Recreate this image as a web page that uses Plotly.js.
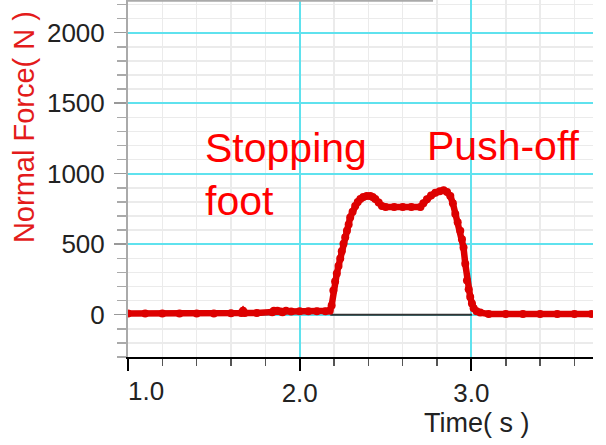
<!DOCTYPE html>
<html>
<head>
<meta charset="utf-8">
<script src="https://cdn.plot.ly/plotly-3.0.1.min.js"></script>
<style>html,body{margin:0;padding:0;background:#fff;}#chart{width:606px;height:445px;}</style>
</head>
<body>
<div id="chart"></div>
<script>
// Time (s) and normal force (N)
var time = [1.00, 1.10, 1.20, 1.30, 1.40, 1.50, 1.60, 1.66, 1.67, 1.68, 1.75, 1.84, 1.85, 1.87, 1.89, 1.90, 1.92, 1.95, 2.00, 2.05, 2.10, 2.15, 2.175,
  2.186, 2.196, 2.206, 2.216, 2.226, 2.236, 2.245, 2.255, 2.265, 2.275, 2.285, 2.294, 2.308, 2.323, 2.338, 2.353, 2.37, 2.39, 2.411, 2.425, 2.440, 2.46, 2.479,
  2.50, 2.55, 2.60, 2.65, 2.703, 2.72, 2.741, 2.765, 2.790, 2.815, 2.838, 2.858, 2.877, 2.892, 2.906, 2.92, 2.935, 2.945, 2.954, 2.964, 2.974, 2.984, 2.993, 3.003, 3.013, 3.03, 3.051,
  3.10, 3.20, 3.30, 3.40, 3.50, 3.60, 3.70];
var force = [8, 8, 8, 8, 8, 8, 10, 12, 28, 12, 12, 18, 28, 28, 22, 18, 28, 22, 25, 25, 25, 25, 28,
  66, 172, 235, 292, 345, 398, 450, 503, 550, 595, 640, 689, 730, 771, 800, 820, 835, 842, 841, 835, 820, 795, 771,
  764, 764, 764, 764, 764, 790, 818, 845, 865, 876, 882, 870, 842, 790, 715, 655, 595, 535, 477, 362, 243, 180, 125, 80, 46, 25, 15,
  5, 5, 5, 5, 5, 5, 5];
// Black baseline under the contact phase
var baseTime = [2.178, 3.003];
var baseForce = [0, 0];

var xTickVals = [1, 2, 3];
var xTickText = ["", "2.0", "3.0"];
var firstXLabel = "1.0";
var yTickVals = [0, 500, 1000, 1500, 2000];
var yTickText = ["0", "500", "1000", "1500", "2000"];

var FONT = "Liberation Sans, Arial, sans-serif";
var CYAN = "#5fe2ee";
var MINOR = "#ebebeb";

var traces = [
  {x: baseTime, y: baseForce, type: "scatter", mode: "lines",
   line: {color: "#333333", width: 2}, hoverinfo: "skip", showlegend: false},
  {x: time, y: force, type: "scatter", mode: "lines+markers",
   line: {color: "#dd0000", width: 6.5},
   marker: {color: "#dd0000", size: 8},
   showlegend: false}
];

var layout = {
  width: 606, height: 445,
  margin: {l: 128, r: 13, t: 0, b: 88},
  paper_bgcolor: "#ffffff", plot_bgcolor: "#ffffff",
  showlegend: false,
  font: {family: FONT, color: "#222222"},
  xaxis: {
    range: [1.0, 3.708],
    tickvals: xTickVals, ticktext: xTickText,
    ticks: "outside", ticklen: 12, tickwidth: 2, tickcolor: "#000000",
    showline: true, linecolor: "#000000", linewidth: 2,
    showgrid: true, gridcolor: CYAN, gridwidth: 2,
    zeroline: false,
    tickfont: {family: FONT, size: 26, color: "#222222"},
    ticklabelstandoff: 0,
    minor: {dtick: 0.2, tick0: 1, ticks: "outside", ticklen: 7, tickwidth: 1.5, tickcolor: "#555555",
            showgrid: true, gridcolor: MINOR, gridwidth: 1.5}
  },
  yaxis: {
    range: [-300, 2232],
    tickvals: yTickVals, ticktext: yTickText,
    ticks: "outside", ticklen: 12, tickwidth: 1.5, tickcolor: "#999999",
    showline: true, linecolor: "#aaaaaa", linewidth: 2,
    showgrid: true, gridcolor: CYAN, gridwidth: 2,
    zeroline: false,
    tickfont: {family: FONT, size: 26, color: "#222222"},
    ticklabelstandoff: 4,
    minor: {dtick: 100, tick0: 0, ticks: "outside", ticklen: 9, tickwidth: 1.5, tickcolor: "#aaaaaa",
            showgrid: true, gridcolor: MINOR, gridwidth: 1.5}
  },
  shapes: [
    {type: "line", xref: "paper", yref: "paper", x0: 0, x1: 0.656, y0: 0.998, y1: 0.998,
     line: {color: "#aaaaaa", width: 2}}
  ],
  annotations: [
    {text: "Stopping<br>foot", x: 1.437, y: 1360, xref: "x", yref: "y", xanchor: "left", yanchor: "top",
     align: "left", showarrow: false, font: {family: FONT, size: 41, color: "#ff0000"}},
    {text: "Push-off", x: 2.749, y: 1375, xref: "x", yref: "y", xanchor: "left", yanchor: "top",
     xshift: -3, align: "left", showarrow: false, font: {family: FONT, size: 41, color: "#ff0000"}},
    {text: "Time( s )", x: 3.03, y: -0.185, xref: "x", yref: "paper", xanchor: "center", yanchor: "middle",
     showarrow: false, font: {family: FONT, size: 27, color: "#222222"}},
    {text: firstXLabel, x: 1.0, y: -0.095, xref: "x", yref: "paper", xanchor: "left", yanchor: "middle",
     xshift: -2, showarrow: false, font: {family: FONT, size: 26, color: "#222222"}},
    {text: "Normal Force( N )", x: -0.2237, y: 0.644, xref: "paper", yref: "paper", xanchor: "center", yanchor: "middle",
     textangle: -90, showarrow: false, font: {family: FONT, size: 29, color: "#e31b1b"}}
  ]
};

Plotly.newPlot("chart", traces, layout, {staticPlot: true, displayModeBar: false});
</script>
</body>
</html>
